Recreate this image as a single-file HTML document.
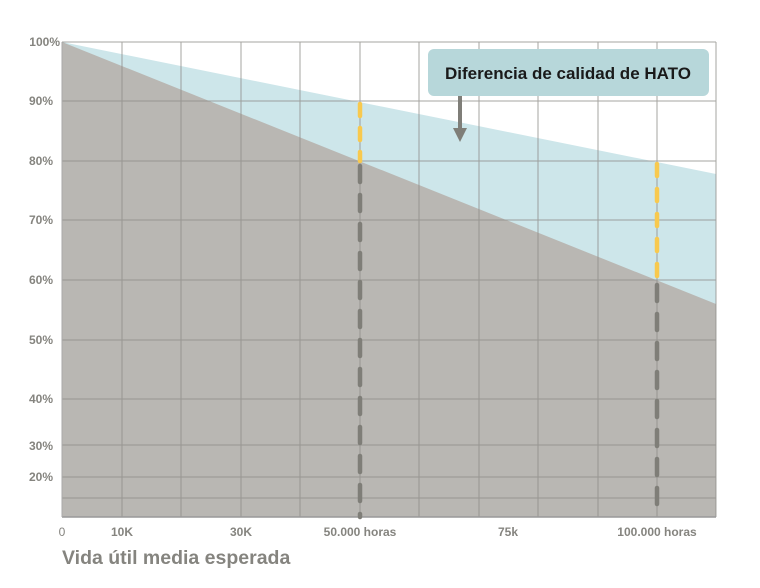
<!DOCTYPE html>
<html><head><meta charset="utf-8"><style>
html,body{margin:0;padding:0;background:#fff;}
svg{display:block;}
text{font-family:"Liberation Sans",sans-serif;}
</style></head><body>
<svg width="760" height="588" viewBox="0 0 760 588">
<polygon points="62,42 716,174 716,517 62,517" fill="#cde6ea"/>
<polygon points="62,42 716,304 716,517 62,517" fill="#b9b7b3"/>
<g stroke="#8f8e8a" stroke-width="1" opacity="0.8">
<line x1="62" y1="42" x2="716" y2="42"/>
<line x1="122" y1="42" x2="122" y2="517"/><line x1="181" y1="42" x2="181" y2="517"/>
<line x1="241" y1="42" x2="241" y2="517"/><line x1="300" y1="42" x2="300" y2="517"/>
<line x1="360" y1="42" x2="360" y2="517"/><line x1="419" y1="42" x2="419" y2="517"/>
<line x1="479" y1="42" x2="479" y2="517"/><line x1="538" y1="42" x2="538" y2="517"/>
<line x1="598" y1="42" x2="598" y2="517"/><line x1="657" y1="42" x2="657" y2="517"/>
<line x1="716" y1="42" x2="716" y2="517"/>
<line x1="62" y1="101" x2="716" y2="101"/><line x1="62" y1="161" x2="716" y2="161"/>
<line x1="62" y1="220" x2="716" y2="220"/><line x1="62" y1="280" x2="716" y2="280"/>
<line x1="62" y1="340" x2="716" y2="340"/><line x1="62" y1="399" x2="716" y2="399"/>
<line x1="62" y1="445" x2="716" y2="445"/><line x1="62" y1="477" x2="716" y2="477"/>
<line x1="62" y1="498" x2="716" y2="498"/>
</g>
<line x1="62" y1="517" x2="716" y2="517" stroke="#999" stroke-width="1.5"/>
<line x1="62" y1="42" x2="62" y2="517" stroke="#aaa" stroke-width="1"/>
<g stroke-width="4.5" stroke-linecap="round" fill="none">
<line x1="360" y1="104" x2="360" y2="161" stroke="#f8c94e" stroke-dasharray="12,12"/>
<line x1="360" y1="166" x2="360" y2="517" stroke="#7f7e78" stroke-dasharray="16,13"/>
<line x1="657" y1="164" x2="657" y2="280" stroke="#f8c94e" stroke-dasharray="12,13"/>
<line x1="657" y1="285" x2="657" y2="517" stroke="#7f7e78" stroke-dasharray="16,13"/>
</g>
<rect x="428" y="49" width="281" height="47" rx="6" fill="#b7d7da"/>
<text x="568" y="79" text-anchor="middle" font-size="17" font-weight="bold" fill="#1a1a1a">Diferencia de calidad de HATO</text>
<line x1="460" y1="96" x2="460" y2="132" stroke="#7f7e78" stroke-width="4"/>
<polygon points="453,128 467,128 460,142" fill="#7f7e78"/>
<g font-size="12" font-weight="bold" fill="#85847f" text-anchor="end">
<text x="60" y="46">100%</text><text x="53" y="105">90%</text><text x="53" y="165">80%</text>
<text x="53" y="224">70%</text><text x="53" y="284">60%</text><text x="53" y="344">50%</text>
<text x="53" y="403">40%</text><text x="53" y="450">30%</text><text x="53" y="481">20%</text>
</g>
<g font-size="12" font-weight="bold" fill="#85847f" text-anchor="middle">
<text x="62" y="536" font-weight="normal">0</text><text x="122" y="536">10K</text>
<text x="241" y="536">30K</text><text x="360" y="536">50.000 horas</text>
<text x="508" y="536">75k</text><text x="657" y="536">100.000 horas</text>
</g>
<text x="62" y="564" font-size="19.5" font-weight="bold" fill="#85847f">Vida útil media esperada</text>
</svg>
</body></html>
